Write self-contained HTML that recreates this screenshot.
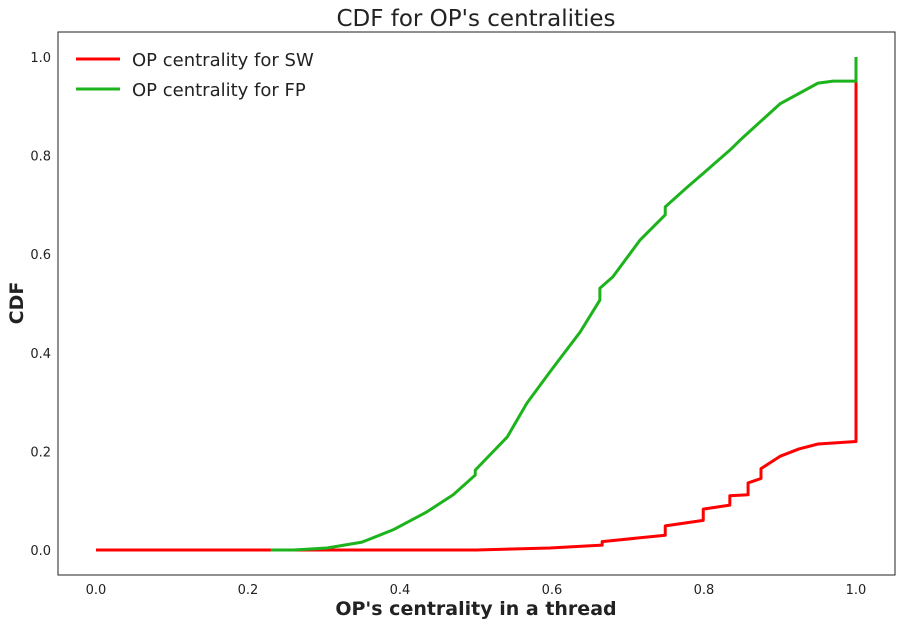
<!DOCTYPE html>
<html><head><meta charset="utf-8"><style>
body{margin:0;background:#fff;}
text{font-family:"DejaVu Sans","Liberation Sans",sans-serif;}
</style></head><body>
<svg id="chart" width="901" height="627" xmlns="http://www.w3.org/2000/svg">
<rect width="901" height="627" fill="#fff"/>
<text x="476" y="26" font-size="23" text-anchor="middle" fill="#222">CDF for OP's centralities</text>
<rect x="58" y="32" width="837" height="543" fill="none" stroke="#222" stroke-width="1"/>
<g id="ticks"></g>
<g id="series"></g>
<text x="476" y="615" font-size="19" font-weight="bold" text-anchor="middle" fill="#222">OP's centrality in a thread</text>
<text transform="translate(23,303) rotate(-90)" font-size="19" font-weight="bold" text-anchor="middle" fill="#222">CDF</text>
<g>
<line x1="76" y1="59" x2="120" y2="59" stroke="#ff0000" stroke-width="3"/>
<text x="132" y="66" font-size="18" fill="#222">OP centrality for SW</text>
<line x1="76" y1="89" x2="120" y2="89" stroke="#1db31d" stroke-width="3"/>
<text x="132" y="96" font-size="18" fill="#222">OP centrality for FP</text>
</g>
</svg>
<script>
const xTicks=[0.0,0.2,0.4,0.6,0.8,1.0];
const yTicks=[0.0,0.2,0.4,0.6,0.8,1.0];
const swX=[0,0.5,0.597,0.666,0.666,0.749,0.749,0.799,0.799,0.834,0.834,0.858,0.858,0.875,0.875,0.89,0.9,0.925,0.95,1.0,1.0];
const swY=[0,0,0.004,0.01,0.017,0.03,0.049,0.06,0.083,0.091,0.11,0.112,0.136,0.145,0.165,0.18,0.19,0.205,0.215,0.22,1.0];
const fpX=[0.23,0.26,0.304,0.35,0.391,0.435,0.47,0.499,0.499,0.541,0.567,0.601,0.637,0.663,0.663,0.68,0.716,0.749,0.749,0.778,0.799,0.834,0.85,0.9,0.95,0.97,1.0,1.0];
const fpY=[0,0,0.004,0.016,0.041,0.077,0.112,0.152,0.162,0.229,0.298,0.369,0.442,0.507,0.531,0.554,0.629,0.680,0.696,0.736,0.764,0.811,0.835,0.905,0.947,0.951,0.951,1.0];
const X=v=>96+v*760, Y=v=>550-v*493;
const NS="http://www.w3.org/2000/svg";
const tg=document.getElementById('ticks');
xTicks.forEach(t=>{const e=document.createElementNS(NS,'text');


e.setAttribute('x',X(t));e.setAttribute('y',594);e.setAttribute('font-size',13);e.setAttribute('text-anchor','middle');e.setAttribute('fill','#222');e.textContent=t.toFixed(1);tg.appendChild(e);});
yTicks.forEach(t=>{const e=document.createElementNS(NS,'text');


e.setAttribute('x',51);e.setAttribute('y',Y(t)+5);e.setAttribute('font-size',13);e.setAttribute('text-anchor','end');e.setAttribute('fill','#222');e.textContent=t.toFixed(1);tg.appendChild(e);});
const sg=document.getElementById('series');
function line(xs,ys,c,name){const p=document.createElementNS(NS,'polyline');


p.setAttribute('points',xs.map((x,i)=>X(x)+','+Y(ys[i])).join(' '));p.setAttribute('fill','none');p.setAttribute('stroke',c);p.setAttribute('stroke-width',3);p.setAttribute('stroke-linejoin','round');sg.appendChild(p);}
line(swX,swY,'#ff0000','sw-cdf-line');
line(fpX,fpY,'#1db31d','fp-cdf-line');
</script>
</body></html>
